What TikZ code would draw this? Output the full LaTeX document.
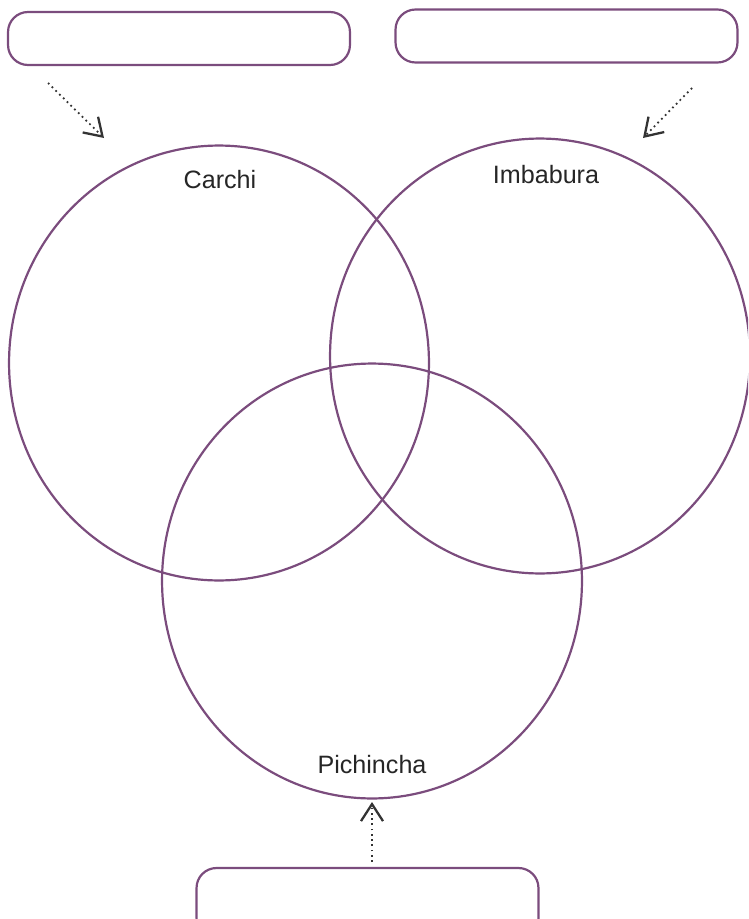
\documentclass[tikz,border=0pt]{standalone}
\usepackage{fontspec}
\setmainfont{Liberation Sans}
\usetikzlibrary{shapes.geometric,arrows.meta}
\definecolor{vennline}{HTML}{7B4C7D}
\definecolor{arrowgray}{HTML}{333333}
\begin{document}
\begin{tikzpicture}[x=0.02cm, y=-0.02cm,
    set/.style={ellipse, draw=vennline, line width=1.25pt, inner sep=0pt, minimum width=8.4cm, minimum height=8.7cm},
    answerbox/.style={rectangle, draw=vennline, line width=1.25pt, rounded corners=0.4cm, minimum width=6.84cm, minimum height=1.06cm},
    setname/.style={anchor=base, font=\fontsize{14.3}{17}\selectfont, text=black!85},
    hint/.style={draw=arrowgray, line width=1pt, dotted, -{Straight Barb[length=0.34cm, width=0.44cm, line width=1.3pt]}}]

                  \useasboundingbox (0,0) rectangle (748,919);
                  \clip (0,0) rectangle (748,919);

                  % the three sets
                  \node[set] (carchi) at (219,363) {};
                  \node[set] (imbabura) at (540,356) {};
                  \node[set] (pichincha) at (372,581) {};

                  \node[setname] (lcarchi) at (220,188) {Carchi};
                  \node[setname] (limbabura) at (546,183) {Imbabura};
                  \node[setname] (lpichincha) at (372,773) {Pichincha};

                  % boxes to fill in (the last one runs off the page)
                  \node[answerbox] (box1) at (179,38.5) {};
                  \node[answerbox] (box2) at (566.5,36) {};
                  \node[answerbox, minimum height=1.4cm] (box3) at (367.5,903) {};

                  \coordinate (a1) at (48,83);
                  \coordinate (b1) at (104,138);
                  \coordinate (a2) at (692,88);
                  \coordinate (b2) at (643,138);
                  \coordinate (a3) at (372,862);
                  \coordinate (b3) at (372,802);

                  \draw[hint] (a1) -- (b1);
                  \draw[hint] (a2) -- (b2);
                  \draw[hint] (a3) -- (b3);

            \end{tikzpicture}
\end{document}
